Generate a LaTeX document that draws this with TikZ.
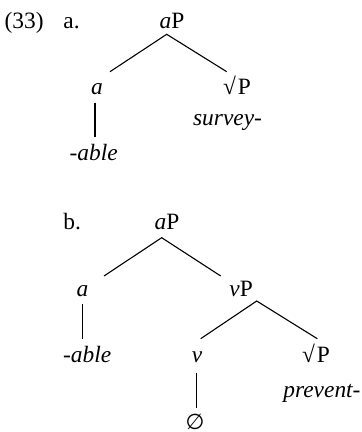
\documentclass[tikz,border=0pt]{standalone}
\usepackage{fontspec}
\setmainfont{Liberation Serif}
\newfontfamily\symfont{DejaVu Sans}
\begin{document}
\begin{tikzpicture}[x=0.5pt,y=-0.5pt,
  lab/.style={inner sep=0pt,anchor=base west,font=\fontsize{11.7}{14}\selectfont},
  edge/.style={line width=0.55pt}]
\useasboundingbox (0,0) rectangle (362,432);
% tree a
\node[lab] (n33) at (4.3,28.3) {(33)};
\node[lab] (la) at (63,28.3) {a.};
\node[lab] (aP1) at (159.3,28.3) {\textit{a}P};
\node[lab,anchor=base] (a1) at (97,94.3) {\textit{a}};
\node[lab] (rP1) at (222.7,94.3) {√\kern1ptP};
\node[lab] (survey) at (192.7,126) {\textit{survey-}};
\node[lab] (able1) at (69.3,161) {\textit{-able}};
\coordinate (aP1b) at (166.7,34.3);
\coordinate (a1t) at (110,71.7);
\coordinate (rP1t) at (226.7,71.7);
\coordinate (a1b) at (95,102.7);
\coordinate (able1t) at (95,136.7);
\draw[edge] (a1t) -- (aP1b) -- (rP1t);
\draw[edge] (a1b) -- (able1t);
% tree b
\node[lab] (lb) at (63,229.3) {b.};
\node[lab] (aP2) at (154.3,229.3) {\textit{a}P};
\node[lab,anchor=base] (a2) at (82.5,296) {\textit{a}};
\node[lab] (vP) at (229,296) {\textit{v}P};
\node[lab] (able2) at (62.7,362.7) {\textit{-able}};
\node[lab,anchor=base] (v) at (197,362.7) {\textit{v}};
\node[lab] (rP2) at (301.7,362.7) {√\kern1ptP};
\node[lab] (prevent) at (283,397.7) {\textit{prevent-}};
\node[lab,anchor=base] (null) at (195,429.6) {\fontsize{10.8}{12}\symfont ∅};
\coordinate (aP2b) at (161.7,237.7);
\coordinate (a2t) at (104,276);
\coordinate (vPt) at (220.7,276);
\coordinate (vPb) at (256.7,301);
\coordinate (vt) at (200.7,338.7);
\coordinate (rP2t) at (317.3,338.7);
\coordinate (a2b) at (82.3,304.3);
\coordinate (able2t) at (82.3,338.7);
\coordinate (vb) at (196.7,372.7);
\coordinate (nullt) at (196.7,407.7);
\draw[edge] (a2t) -- (aP2b) -- (vPt);
\draw[edge] (vt) -- (vPb) -- (rP2t);
\draw[edge] (a2b) -- (able2t);
\draw[edge] (vb) -- (nullt);
\end{tikzpicture}
\end{document}
